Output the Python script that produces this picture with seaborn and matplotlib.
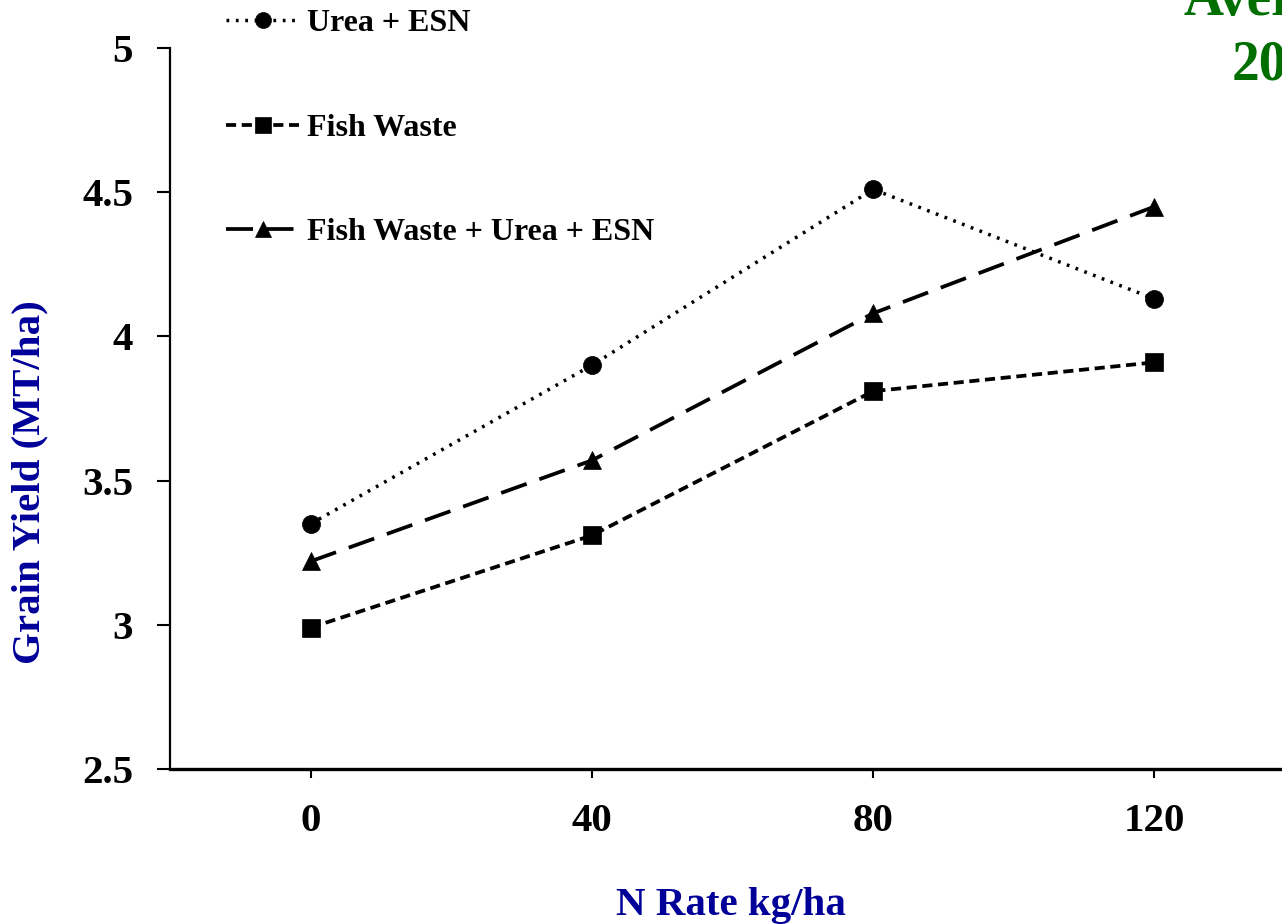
import matplotlib
matplotlib.use("Agg")
import matplotlib.pyplot as plt
import seaborn as sns
import pandas as pd

# N application rates (kg/ha)
n_rates = [0, 40, 80, 120]

# Grain yield (MT/ha) for each fertilizer treatment
urea_esn = [3.35, 3.90, 4.51, 4.13]
fish_waste = [2.99, 3.31, 3.81, 3.91]
fish_urea_esn = [3.22, 3.57, 4.08, 4.45]

series_names = ["Urea + ESN", "Fish Waste", "Fish Waste + Urea + ESN"]
y_ticks = [2.5, 3, 3.5, 4, 4.5, 5]
y_tick_labels = ["2.5", "3", "3.5", "4", "4.5", "5"]
title_lines = ["Average", "2009"]

df = pd.DataFrame({
    "N Rate": n_rates * 3,
    "Yield": urea_esn + fish_waste + fish_urea_esn,
    "Treatment": [series_names[0]] * 4 + [series_names[1]] * 4 + [series_names[2]] * 4,
})

sns.set_theme(style="white")
plt.rcParams["font.family"] = ["Liberation Serif", "DejaVu Serif"]
plt.rcParams["font.weight"] = "bold"
plt.rcParams["text.color"] = "black"
plt.rcParams["axes.labelcolor"] = "black"
plt.rcParams["xtick.color"] = "black"
plt.rcParams["ytick.color"] = "black"

W, H = 1282, 924
fig = plt.figure(figsize=(W / 100, H / 100), dpi=100)
fig.patch.set_facecolor("white")

# axes: left spine at x=170px, top at y=48px, bottom at y=769px, runs past right edge
left_px, right_px, top_px, bot_px = 170, 1295, 48, 769
ax = fig.add_axes([left_px / W, 1 - bot_px / H, (right_px - left_px) / W, (bot_px - top_px) / H])
ax.set_facecolor("white")

styles = {
    series_names[0]: dict(marker="o", ms=13, dashes=(0.8, 1.9), lw=2.5),
    series_names[1]: dict(marker="s", ms=12.5, dashes=(2.7, 1.5), lw=2.7),
    series_names[2]: dict(marker="^", ms=13, dashes=(7.2, 3.6), lw=2.7),
}

for name in series_names:
    st = styles[name]
    sub = df[df["Treatment"] == name]
    sns.lineplot(
        data=sub, x="N Rate", y="Yield", ax=ax, color="black",
        marker=st["marker"], markersize=st["ms"],
        markeredgewidth=0.5, markeredgecolor="black",
        linewidth=st["lw"], label=name, legend=False,
    )
    ax.lines[-1].set_dashes(st["dashes"])

ax.set_xlim(-20, 140)
ax.set_ylim(2.5, 5)
ax.set_xticks(n_rates)
ax.set_xticklabels([str(v) for v in n_rates])
ax.set_yticks(y_ticks)
ax.set_yticklabels(y_tick_labels)

for s in ["top", "right"]:
    ax.spines[s].set_visible(False)
ax.spines["left"].set_linewidth(1.6)
ax.spines["bottom"].set_linewidth(2.4)
ax.spines["left"].set_color("black")
ax.spines["bottom"].set_color("black")

ax.tick_params(axis="y", direction="out", length=9.5, width=1.5, color="black",
               pad=17, labelsize=29.5, left=True, labelcolor="black")
ax.tick_params(axis="x", direction="out", length=6.5, width=1.5, color="black",
               pad=18, labelsize=29.5, bottom=True, labelcolor="black")
for lab in ax.get_xticklabels() + ax.get_yticklabels():
    lab.set_fontweight("bold")

ax.set_xlabel("")
ax.set_ylabel("")
fig.text(731 / W, 1 - 905 / H, "N Rate kg/ha", ha="center", va="center",
         fontsize=29.5, fontweight="bold", color="#000099")
fig.text(30 / W, 1 - 482 / H, "Grain Yield (MT/ha)", ha="center", va="center",
         rotation=90, fontsize=29.5, fontweight="bold", color="#000099")

# title block at the upper right
fig.text(1183 / W, 1 - 15 / H, title_lines[0], ha="left", va="baseline",
         fontsize=40, fontweight="bold", color="#006F00")
fig.text(1232 / W, 1 - 79 / H, title_lines[1], ha="left", va="baseline",
         fontsize=40, fontweight="bold", color="#006F00")

handles, labels = ax.get_legend_handles_labels()
leg = fig.legend(
    handles, labels, loc="upper left", bbox_to_anchor=(226 / W, 1 - 9 / H),
    frameon=False, labelspacing=2.35, handlelength=2.3,
    handletextpad=0.25, borderpad=0, borderaxespad=0,
    prop={"weight": "bold", "size": 23},
)
for h in leg.get_lines():
    h.set_markersize(11.5)
for t in leg.get_texts():
    t.set_color("black")

fig.savefig("out.png", dpi=100, facecolor="white")
